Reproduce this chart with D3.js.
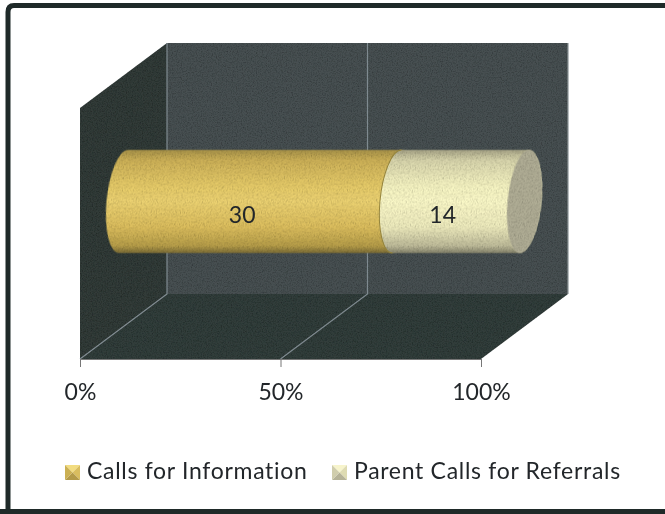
<!DOCTYPE html>
<html>
<head>
<meta charset="utf-8">
<style>
  html, body { margin: 0; padding: 0; background: #fff; }
  svg { display: block; }
  text { font-family: Lato, "Open Sans", sans-serif; fill: #23272a; }
</style>
</head>
<body>
<svg id="chart" width="665" height="514"></svg>
<script src="https://cdn.jsdelivr.net/npm/d3@7/dist/d3.min.js"></script>
<script>
'use strict';
//data
var SERIES_NAMES = ['Calls for Information', 'Parent Calls for Referrals'];
var SERIES_VALUES = [30, 14];
var TICK_VALUES = [0, 50, 100];

//layout
var FRONT = { left: 80, right: 481, top: 108, bottom: 359 };
var DEPTH = { x: 87, y: -65 };
var BAR = { top: 150, bottom: 253, rx: 17, skew: -5 };
var LEGEND_X = [65, 332];
var LEGEND_Y = 465;
var SWATCH = 15;

var svg = d3.select('#chart');
var defs = svg.append('defs');

var x = d3.scaleLinear().domain([0, 100]).range([FRONT.left, FRONT.right]);

//the bar sits half way into the box
var barX = d3.scaleLinear().domain([0, 100])
  .range([FRONT.left + DEPTH.x / 2, FRONT.right + DEPTH.x / 2]);

//scan grain
var grain = defs.append('filter').attr('id', 'grain')
  .attr('x', 0).attr('y', 0).attr('width', 1).attr('height', 1);
grain.append('feTurbulence').attr('type', 'fractalNoise')
  .attr('baseFrequency', 0.8).attr('numOctaves', 2).attr('seed', 4)
  .attr('result', 'noise');
grain.append('feColorMatrix').attr('in', 'noise').attr('type', 'matrix')
  .attr('values', '0 0 0 0 0  0 0 0 0 0  0 0 0 0 0  1 0 0 0 -0.42')
  .attr('result', 'speck');
grain.append('feComposite').attr('in', 'speck').attr('in2', 'SourceAlpha')
  .attr('operator', 'in').attr('result', 'clipped');
var grainMerge = grain.append('feMerge');
grainMerge.append('feMergeNode').attr('in', 'SourceGraphic');
grainMerge.append('feMergeNode').attr('in', 'clipped');

defs.append('filter').attr('id', 'soft')
  .append('feGaussianBlur').attr('stdDeviation', 0.4);

function addGradient(id, stops) {
  var g = defs.append('linearGradient').attr('id', id)
    .attr('x1', 0).attr('y1', 0).attr('x2', 0).attr('y2', 1);
  stops.forEach(function(s) {
    g.append('stop').attr('offset', s[0]).attr('stop-color', s[1]);
  });
}
addGradient('gold', [[0, '#a8934a'], [0.1, '#cdb158'], [0.35, '#e6cb69'], [0.5, '#ecd272'],
  [0.75, '#dcbe5e'], [0.93, '#b79e4a'], [1, '#7d6e38']]);
addGradient('cream', [[0, '#a8a587'], [0.1, '#d8d5ac'], [0.35, '#f6f4c2'], [0.5, '#fbf9c8'],
  [0.75, '#eeebbd'], [0.93, '#bfbc9a'], [1, '#86846c']]);
var FILLS = ['url(#gold)', 'url(#cream)'];

//page frame, open on the right like the scan
svg.append('path')
  .attr('d', 'M 670 5.5 L 14 5.5 Q 8 5.5 8 12 L 8 514 M 0 511.5 L 670 511.5')
  .attr('fill', 'none')
  .attr('stroke', '#1f2a29')
  .attr('stroke-width', 5);

var chart = svg.append('g').attr('filter', 'url(#soft)');
var walls = chart.append('g').attr('filter', 'url(#grain)');

function corner(xVal, yPos, deep) {
  return [x(xVal) + (deep ? DEPTH.x : 0), yPos + (deep ? DEPTH.y : 0)];
}
var line = d3.line();

//side wall
walls.append('path')
  .attr('d', line([corner(0, FRONT.top), corner(0, FRONT.top, true),
    corner(0, FRONT.bottom, true), corner(0, FRONT.bottom)]) + 'Z')
  .attr('fill', '#323b39');

//floor
walls.append('path')
  .attr('d', line([corner(0, FRONT.bottom), corner(0, FRONT.bottom, true),
    corner(100, FRONT.bottom, true), corner(100, FRONT.bottom)]) + 'Z')
  .attr('fill', '#333c3a');

//back wall
walls.append('path')
  .attr('d', line([corner(0, FRONT.top, true), corner(100, FRONT.top, true),
    corner(100, FRONT.bottom, true), corner(0, FRONT.bottom, true)]) + 'Z')
  .attr('fill', '#474f51');

//gridlines, wall then floor
var grid = chart.append('g').attr('fill', 'none')
  .attr('stroke', '#7f8a90').attr('stroke-width', 1.2);

TICK_VALUES.slice(0, 2).forEach(function(t) {
  grid.append('path').attr('d', line([corner(t, FRONT.top, true),
    corner(t, FRONT.bottom, true), corner(t, FRONT.bottom)]));
});
grid.append('path').attr('d', line([corner(100, FRONT.top, true), corner(100, FRONT.bottom, true)]))
  .attr('stroke', '#8c9497');

//stacked segments
var total = d3.sum(SERIES_VALUES);
var cum = d3.cumsum(SERIES_VALUES);
var segments = SERIES_VALUES.map(function(v, i) {
  return {
    start: (cum[i] - v) / total * 100,
    end: cum[i] / total * 100,
    value: v,
    fill: FILLS[i]
  };
});

var r = (BAR.bottom - BAR.top) / 2;
var bar = chart.append('g')
  .attr('transform', 'translate(0,' + (BAR.top + r) + ') skewX(' + BAR.skew + ')');

bar.selectAll('path.segment')
  .data(segments)
  .enter()
  .append('path')
  .attr('class', 'segment')
  .attr('d', function(d) {
    var x0 = barX(d.start);
    var x1 = barX(d.end);
    return 'M' + x0 + ',' + (-r) +
      'A' + BAR.rx + ',' + r + ' 0 0 0 ' + x0 + ',' + r +
      'L' + x1 + ',' + r +
      'A' + BAR.rx + ',' + r + ' 0 0 0 ' + x1 + ',' + (-r) + 'Z';
  })
  .attr('fill', function(d) { return d.fill; })
  .attr('filter', 'url(#grain)');

//dark rim where the cream part starts
bar.append('path')
  .attr('d', 'M' + barX(segments[1].start) + ',' + (-r) +
    'A' + BAR.rx + ',' + r + ' 0 0 0 ' + barX(segments[1].start) + ',' + r)
  .attr('fill', 'none')
  .attr('stroke', '#94833a')
  .attr('stroke-width', 1);

//end cap
bar.append('ellipse')
  .attr('cx', barX(100))
  .attr('cy', 0)
  .attr('rx', BAR.rx)
  .attr('ry', r)
  .attr('fill', '#b0ad95')
  .attr('filter', 'url(#grain)');

//value labels
chart.selectAll('text.value')
  .data(segments)
  .enter()
  .append('text')
  .attr('class', 'value')
  .attr('x', function(d) { return (barX(d.start) + barX(d.end)) / 2 - BAR.rx - 1; })
  .attr('y', (BAR.top + BAR.bottom) / 2 + 21)
  .attr('text-anchor', 'middle')
  .attr('font-size', 23)
  .text(function(d) { return d.value; });

//axis
var axis = chart.append('g')
  .attr('transform', 'translate(0,' + FRONT.bottom + ')')
  .call(d3.axisBottom(x)
    .tickValues(TICK_VALUES)
    .tickFormat(function(d) { return d + '%'; })
    .tickSize(8)
    .tickPadding(17));
axis.select('.domain').attr('stroke', '#777');
axis.selectAll('.tick line').attr('stroke', '#777');
axis.selectAll('text')
  .attr('font-size', 23)
  .attr('font-family', 'Lato, "Open Sans", sans-serif')
  .attr('fill', '#23272a');

//legend
var SWATCH_FACES = [
  ['#f2dc80', '#d9bd5e', '#b39a48', '#cbb053'],
  ['#f7f4cc', '#dedbb2', '#b5b297', '#d0cdac']
];
var legend = chart.selectAll('g.legend')
  .data(SERIES_NAMES)
  .enter()
  .append('g')
  .attr('class', 'legend')
  .attr('transform', function(d, i) { return 'translate(' + LEGEND_X[i] + ',' + LEGEND_Y + ')'; });

legend.each(function(d, i) {
  var g = d3.select(this);
  var c = SWATCH_FACES[i];
  var s = SWATCH;
  var m = s / 2;
  //bevelled square: top, sides, bottom faces
  var faces = [
    [[0, 0], [s, 0], [m, m]],
    [[s, 0], [s, s], [m, m]],
    [[0, s], [s, s], [m, m]],
    [[0, 0], [0, s], [m, m]]
  ];
  faces.forEach(function(f, j) {
    g.append('path').attr('d', line(f) + 'Z').attr('fill', c[j]);
  });
  g.append('text')
    .attr('x', s + 7)
    .attr('y', s - 1)
    .attr('font-size', 23)
    .attr('letter-spacing', 0.7)
    .text(d);
});
</script>
</body>
</html>
